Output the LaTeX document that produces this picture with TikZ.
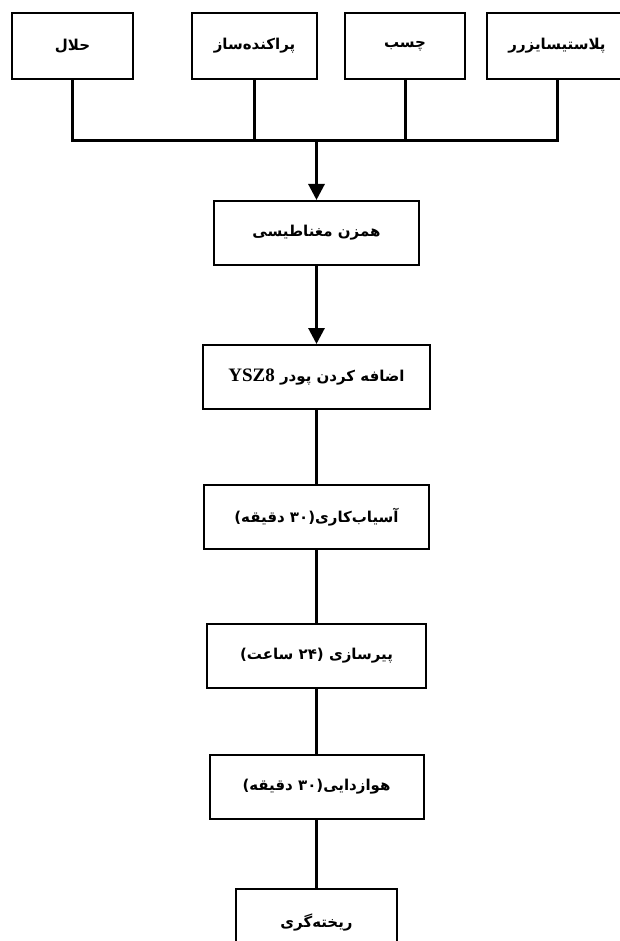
\documentclass[tikz,border=0pt]{standalone}
\usepackage{fontspec}
\TeXXeTstate=1
\newfontfamily\farsifont[Script=Arabic]{DejaVu Sans}
\newfontfamily\latinfont{Liberation Serif}
\usetikzlibrary{arrows.meta,positioning}
\newcommand{\fa}[1]{\beginR #1\endR}
\tikzset{%
	block/.style = {draw, rectangle, line width=2pt, minimum height=64pt, inner sep=0pt, font=\farsifont\bfseries\fontsize{15}{18}\selectfont},
	line/.style  = {line width=3pt},
	arrow/.style = {line width=3pt, -{Triangle[width=16pt,length=16pt]}},
}
\begin{document}
\begin{tikzpicture}[x=1pt,y=-1pt]
	\useasboundingbox (0,0) rectangle (619,941);
	% inputs
	\node[block, minimum width=121pt, minimum height=66pt] (solvent) at (72.5,46) {\fa{حلال}};
	\node[block, minimum width=125pt, minimum height=66pt] (dispersant) at (254.5,46) {\fa{پراکنده‌ساز}};
	\node[block, minimum width=120pt, minimum height=66pt] (binder) at (405,46) {\fa{چسب}};
	\node[block, minimum width=140pt, minimum height=66pt] (plasticizer) at (557,46) {\fa{پلاستیسایزرر}};
	\coordinate (bus) at (316.5,141);

	% process chain
	\node[block, minimum width=205pt] (mixer) at (316.5,233) {\fa{همزن مغناطیسی}};
	\node[block, minimum width=227pt, below=78pt of mixer] (powder) {\fa{اضافه کردن پودر \beginL{\latinfont\fontsize{19}{20}\selectfont YSZ8}\endL}};
	\node[block, minimum width=225pt, below=74pt of powder] (milling) {\fa{آسیاب‌کاری(۳۰ دقیقه)}};
	\node[block, minimum width=219pt, below=73pt of milling] (aging) {\fa{پیرسازی (۲۴ ساعت)}};
	\node[block, minimum width=214pt, below=65pt of aging] (degas) {\fa{هوازدایی(۳۰ دقیقه)}};
	\node[block, minimum width=161pt, minimum height=66pt, below=68pt of degas] (casting) {\fa{ریخته‌گری}};

	\draw[line] (solvent.south) -- (solvent.south |- bus) -- (plasticizer.south |- bus) -- (plasticizer.south);
	\draw[line] (dispersant.south) -- (dispersant.south |- bus);
	\draw[line] (binder.south) -- (binder.south |- bus);
	\draw[arrow] (bus) -- (mixer);
	\draw[arrow] (mixer) -- (powder);
	\draw[line] (powder) -- (milling);
	\draw[line] (milling) -- (aging);
	\draw[line] (aging) -- (degas);
	\draw[line] (degas) -- (casting);
\end{tikzpicture}
\end{document}
